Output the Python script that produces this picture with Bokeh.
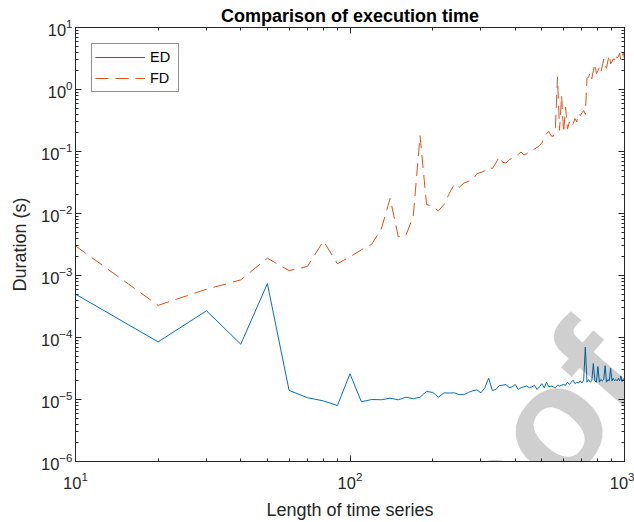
from bokeh.plotting import figure
from bokeh.models import (LogAxis, FixedTicker, LogTickFormatter, CustomJSTickFormatter,
                          Legend, LegendItem, HTMLLabel)
from bokeh.embed import file_html
from bokeh.resources import INLINE

# ---- data ----
lengths = list(range(10, 1001, 10))

ed_seconds = [
    5.0e-4, 8.5e-5, 2.7e-4, 7.8e-5, 7.4e-4, 1.4e-5, 1.07e-5, 9.5e-6, 8.0e-6, 2.6e-5,
    9.2e-6, 1.0e-5, 9.9e-6, 1.05e-5, 9.9e-6, 1.09e-5, 1.03e-5, 1.09e-5, 1.35e-5, 1.3e-5,
    1.09e-5, 1.28e-5, 1.27e-5, 1.28e-5, 1.2e-5, 1.2e-5, 1.3e-5, 1.38e-5, 1.43e-5, 1.28e-5,
    1.55e-5, 2.2e-5, 1.4e-5, 1.45e-5, 1.68e-5, 1.7e-5, 1.75e-5, 1.55e-5, 1.6e-5, 1.75e-5,
    1.45e-5, 1.55e-5, 1.6e-5, 1.65e-5, 1.55e-5, 1.6e-5, 1.7e-5, 1.45e-5, 1.6e-5, 1.8e-5,
    1.55e-5, 1.9e-5, 1.6e-5, 1.65e-5, 1.6e-5, 1.55e-5, 1.7e-5, 1.65e-5, 1.7e-5, 1.75e-5,
    1.7e-5, 1.9e-5, 1.75e-5, 1.9e-5, 2.05e-5, 1.8e-5, 1.9e-5, 1.85e-5, 2.0e-5, 1.85e-5,
    2.05e-5, 7.0e-5, 1.9e-5, 2.1e-5, 1.9e-5, 2.0e-5, 3.8e-5, 2.0e-5, 1.9e-5, 3.4e-5,
    1.9e-5, 2.1e-5, 2.0e-5, 2.1e-5, 3.5e-5, 1.9e-5, 2.1e-5, 2.0e-5, 3.2e-5, 2.0e-5,
    2.2e-5, 2.0e-5, 2.1e-5, 2.0e-5, 2.2e-5, 2.0e-5, 2.4e-5, 1.95e-5, 2.15e-5, 2.1e-5,
]

fd_seconds = [
    3.0e-3, 3.3e-4, 6.0e-4, 8.5e-4, 1.9e-3, 1.2e-3, 1.4e-3, 3.6e-3, 1.55e-3, 2.0e-3,
    2.6e-3, 3.2e-3, 5.6e-3, 1.75e-2, 4.2e-3, 4.5e-3, 9.0e-3, 0.18, 1.4e-2, 1.3e-2,
    1.1e-2, 1.4e-2, 2.1e-2, 3.0e-2, 2.65e-2, 3.1e-2, 3.3e-2, 3.5e-2, 4.4e-2, 4.6e-2,
    4.9e-2, 5.6e-2, 5.3e-2, 6.5e-2, 8.3e-2, 6.7e-2, 6.5e-2, 7.4e-2, 7.8e-2, 8.2e-2,
    9.0e-2, 9.8e-2, 8.8e-2, 9.2e-2, 0.10, 0.105, 0.11, 0.116, 0.125, 0.138,
    0.17, 0.195, 0.21, 0.18, 0.175, 0.23, 1.6, 0.22, 0.8, 0.2,
    0.52, 0.23, 0.3, 0.25, 0.28, 0.34, 0.3, 0.41, 0.38, 0.42,
    0.46, 0.4, 1.5, 1.6, 1.9, 1.5, 2.0, 2.6, 1.8, 2.0,
    2.3, 1.9, 2.4, 3.1, 2.4, 2.2, 2.9, 3.6, 2.6, 2.8,
    3.1, 3.0, 3.7, 3.2, 3.4, 3.8, 2.9, 3.3, 3.9, 3.1,
]

series_names = ["ED", "FD"]
x_major = [10, 100, 1000]
x_minor = [k * 10 ** e for e in (1, 2) for k in range(2, 10)]
y_major = [10.0 ** e for e in range(-6, 2)]
y_minor = [k * 10.0 ** e for e in range(-6, 1) for k in range(2, 10)]

AX = "#262626"
FONT = "Liberation Sans"

p = figure(width=634, height=522, x_axis_type="log", y_axis_type="log",
           x_range=(10, 1000), y_range=(1e-6, 10),
           output_backend="svg", toolbar_location=None,
           title="Comparison of execution time",
           min_border_left=75, min_border_right=10, min_border_top=27, min_border_bottom=61)
p.grid.visible = False
p.outline_line_color = AX
p.background_fill_color = "white"
p.border_fill_color = "white"

p.title.text_font = FONT
p.title.text_font_size = "18px"
p.title.text_font_style = "bold"
p.title.text_color = "black"
p.title.align = "center"
p.title.standoff = 4


def style_axis(ax, ticker, labels=True):
    ax.ticker = ticker
    ax.axis_line_color = AX
    ax.major_tick_line_color = AX
    ax.minor_tick_line_color = AX
    ax.major_tick_in = 6
    ax.major_tick_out = 0
    ax.minor_tick_in = 3
    ax.minor_tick_out = 0
    ax.major_label_text_font = FONT
    ax.major_label_text_font_size = "16.5px"
    ax.major_label_text_color = AX
    ax.axis_label_text_font = FONT
    ax.axis_label_text_font_size = "18px"
    ax.axis_label_text_font_style = "normal"
    ax.axis_label_text_color = AX
    if not labels:
        ax.formatter = CustomJSTickFormatter(code="return ''")
        ax.major_label_standoff = 0


xt = FixedTicker(ticks=x_major, minor_ticks=x_minor)
yt = FixedTicker(ticks=y_major, minor_ticks=y_minor)

xa = p.xaxis[0]
style_axis(xa, xt)
xa.formatter = LogTickFormatter()
xa.axis_label = "Length of time series"
xa.major_label_standoff = 10
xa.axis_label_standoff = 8

ya = p.yaxis[0]
style_axis(ya, yt)
ya.formatter = LogTickFormatter()
ya.axis_label = "Duration (s)"
ya.major_label_standoff = 3
ya.axis_label_standoff = 8

top = LogAxis()
style_axis(top, FixedTicker(ticks=x_major, minor_ticks=x_minor), labels=False)
p.add_layout(top, "above")
right = LogAxis()
style_axis(right, FixedTicker(ticks=y_major, minor_ticks=y_minor), labels=False)
p.add_layout(right, "right")

r_ed = p.line(lengths, ed_seconds, line_color="#0072BD", line_width=1)
r_fd = p.line(lengths, fd_seconds, line_color="#D95319", line_width=1, line_dash="13 7")

legend = Legend(items=[LegendItem(label=series_names[0], renderers=[r_ed]),
                       LegendItem(label=series_names[1], renderers=[r_fd])],
                location="top_left", margin=16, padding=3, spacing=1,
                glyph_width=50, glyph_height=20, label_height=20, label_width=25,
                label_standoff=5, label_text_font=FONT, label_text_font_size="14.5px",
                label_text_color="black",
                border_line_color=AX, border_line_width=1, background_fill_color="white",
                background_fill_alpha=1)
p.add_layout(legend)

# translucent "proof" watermark across the lower right (partly outside the page, as in the reference)
wm = HTMLLabel(x=410, y=-38, x_units="screen", y_units="screen", text="proof",
               angle=49, angle_units="deg", text_font=FONT, text_font_style="bold",
               text_font_size="155px", text_color="black", text_alpha=0.19,
               text_align="center", text_baseline="middle")
p.add_layout(wm)

open("out.html", "w").write(file_html(p, INLINE))
